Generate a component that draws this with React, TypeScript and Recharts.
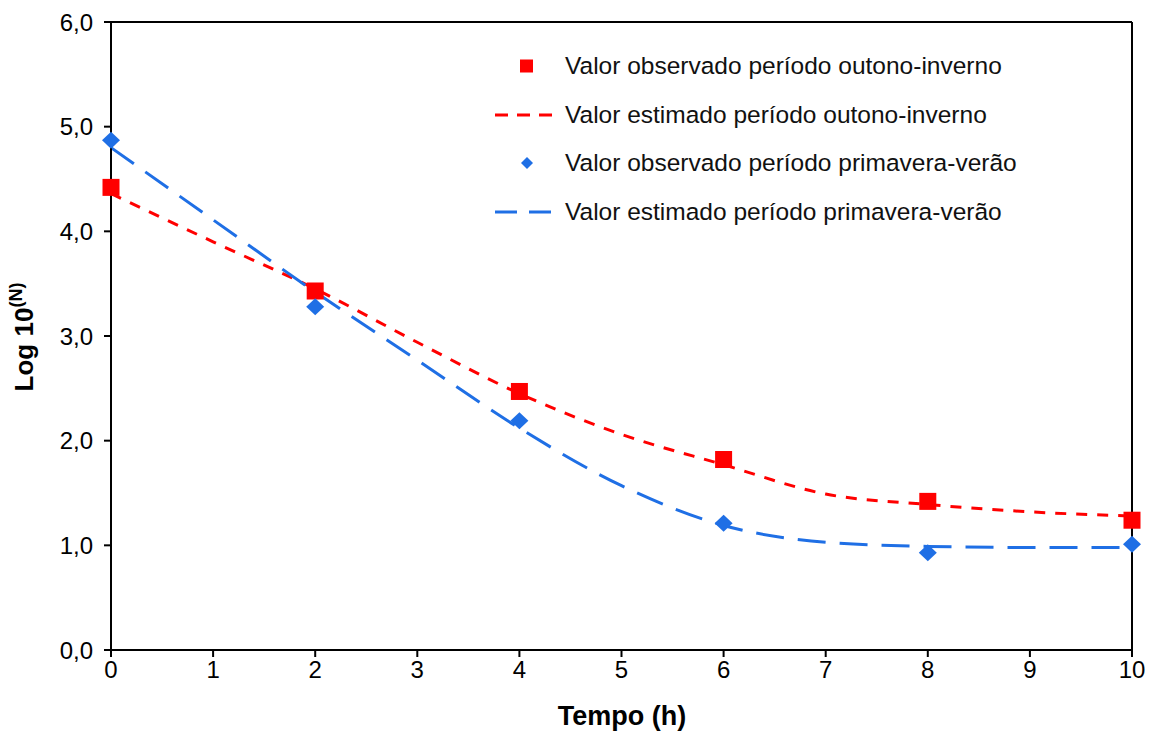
import {
  ComposedChart,
  Line,
  Scatter,
  XAxis,
  YAxis,
  ReferenceLine,
  Customized,
} from "recharts";

const tempoObs = [0, 2, 4, 6, 8, 10];
const obsOutono = [4.42, 3.43, 2.47, 1.82, 1.42, 1.24];
const obsPrimavera = [4.87, 3.28, 2.19, 1.21, 0.93, 1.01];

const tempoEst = [0, 1, 2, 3, 4, 5, 6, 7, 8, 9, 10];
const estOutono = [4.36, 3.9, 3.45, 2.94, 2.45, 2.06, 1.77, 1.49, 1.39, 1.32, 1.28];
const estPrimavera = [4.8, 4.11, 3.42, 2.77, 2.12, 1.57, 1.19, 1.03, 0.99, 0.98, 0.98];

const xTicks = [0, 1, 2, 3, 4, 5, 6, 7, 8, 9, 10];
const yTicks = [0, 1, 2, 3, 4, 5, 6];

const legendLabels = [
  "Valor observado período outono-inverno",
  "Valor estimado período outono-inverno",
  "Valor observado período primavera-verão",
  "Valor estimado período primavera-verão",
];

const RED = "#ff0000";
const BLUE = "#1f6fe5";
const FONT = "'Liberation Sans', Arial, sans-serif";

const obsOutonoData = tempoObs.map((t, i) => ({ t, v: obsOutono[i] }));
const obsPrimaveraData = tempoObs.map((t, i) => ({ t, v: obsPrimavera[i] }));
const estData = tempoEst.map((t, i) => ({ t, outono: estOutono[i], primavera: estPrimavera[i] }));

const fmt = (v: number) => v.toFixed(1).replace(".", ",");

const SquareDot = (props: any) => {
  const { cx, cy } = props;
  if (cx == null || cy == null) return null;
  return <rect x={cx - 8.5} y={cy - 8.5} width={17} height={17} fill={RED} />;
};

const DiamondDot = (props: any) => {
  const { cx, cy } = props;
  if (cx == null || cy == null) return null;
  return (
    <polygon
      points={`${cx},${cy - 8.5} ${cx + 9},${cy} ${cx},${cy + 8.5} ${cx - 9},${cy}`}
      fill={BLUE}
    />
  );
};

const Titles = () => (
  <g fontFamily={FONT} fontWeight="bold" fill="#000">
    <text x={622} y={725} fontSize={27} textAnchor="middle">
      Tempo (h)
    </text>
    <text x={33} y={337} fontSize={26} textAnchor="middle" transform="rotate(-90 33 337)">
      Log 10
      <tspan dy={-11} fontSize={18}>
        (N)
      </tspan>
    </text>
  </g>
);

function LegendIcon({ i }: { i: number }) {
  return (
    <svg width={70} height={48} style={{ display: "block" }}>
      {i === 0 && <rect x={32} y={17.5} width={13} height={13} fill={RED} />}
      {i === 1 && (
        <line x1={7} y1={24} x2={64} y2={24} stroke={RED} strokeWidth={3} strokeDasharray="13 9" />
      )}
      {i === 2 && <polygon points="39,18 45,24 39,30 33,24" fill={BLUE} />}
      {i === 3 && (
        <line x1={7} y1={24} x2={65} y2={24} stroke={BLUE} strokeWidth={3} strokeDasharray="22 12" />
      )}
    </svg>
  );
}

export default function App() {
  return (
    <div style={{ position: "relative", width: 1149, height: 733, background: "#fff" }}>
      <style>{`body{margin:0}`}</style>
      <ComposedChart
        width={1149}
        height={733}
        margin={{ top: 22, right: 17, left: 21, bottom: 23 }}
      >
        <XAxis
          dataKey="t"
          type="number"
          domain={[0, 10]}
          ticks={xTicks}
          allowDuplicatedCategory={false}
          height={60}
          stroke="#000"
          strokeWidth={2}
          tickSize={7}
          tickMargin={4}
          tick={{ fill: "#000", fontSize: 24, fontFamily: FONT }}
        />
        <YAxis
          type="number"
          domain={[0, 6]}
          ticks={yTicks}
          width={90}
          stroke="#000"
          strokeWidth={2}
          tickSize={7}
          tickMargin={11}
          tickFormatter={fmt}
          tick={{ fill: "#000", fontSize: 24, fontFamily: FONT }}
        />
        <ReferenceLine y={6} stroke="#000" strokeWidth={2} />
        <ReferenceLine x={10} stroke="#000" strokeWidth={2} />
        <Line
          data={estData}
          dataKey="outono"
          type="monotone"
          stroke={RED}
          strokeWidth={3}
          strokeDasharray="11 10"
          dot={false}
          activeDot={false}
          isAnimationActive={false}
        />
        <Line
          data={estData}
          dataKey="primavera"
          type="monotone"
          stroke={BLUE}
          strokeWidth={3}
          strokeDasharray="28 14"
          dot={false}
          activeDot={false}
          isAnimationActive={false}
        />
        <Scatter data={obsOutonoData} dataKey="v" shape={SquareDot} isAnimationActive={false} />
        <Scatter data={obsPrimaveraData} dataKey="v" shape={DiamondDot} isAnimationActive={false} />
        <Customized component={Titles} />
      </ComposedChart>
      <div
        style={{
          position: "absolute",
          left: 488,
          top: 42,
          fontFamily: FONT,
          fontSize: 24.5,
          color: "#111",
        }}
      >
        {legendLabels.map((label, i) => (
          <div key={label} style={{ display: "flex", alignItems: "center", height: 48.5 }}>
            <LegendIcon i={i} />
            <span style={{ marginLeft: 7, whiteSpace: "nowrap" }}>{label}</span>
          </div>
        ))}
      </div>
    </div>
  );
}
